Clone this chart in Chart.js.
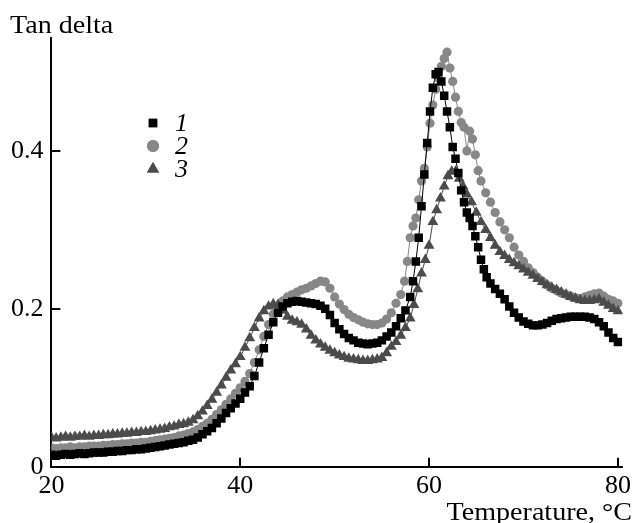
<!DOCTYPE html>
<html>
<head>
<meta charset="utf-8">
<script src="https://cdn.jsdelivr.net/npm/chart.js@4.4.1/dist/chart.umd.min.js"></script>
<style>
  html, body { margin: 0; padding: 0; background: #fff; }
  #wrap { width: 635px; height: 523px; }
</style>
</head>
<body>
<div id="wrap"><canvas id="chart" width="635" height="523"></canvas></div>
<script>
// Tan delta vs temperature, [°C, tan delta]
const sample1 = [
  [20,.015],[20.5,.014],[21,.015],[21.5,.016],[22,.015],[22.5,.016],[23,.017],[23.5,.016],[24,.017],[24.5,.018],
  [25,.018],[25.5,.018],[26,.019],[26.5,.019],[27,.020],[27.5,.020],[28,.021],[28.5,.021],[29,.022],[29.5,.022],
  [30,.023],[30.5,.024],[31,.025],[31.5,.026],[32,.027],[32.5,.028],[33,.029],[33.5,.030],[34,.031],[34.5,.033],
  [35,.034],[35.5,.037],[36,.041],[36.5,.045],[37,.049],[37.5,.055],[38,.061],[38.5,.068],[39,.074],[39.5,.080],
  [40,.086],[40.5,.094],[41,.102],[41.5,.115],[42,.132],[42.5,.150],[43,.167],[43.5,.183],[44,.195],[44.5,.203],
  [45,.207],[45.5,.209],[46,.210],[46.5,.209],[47,.208],[47.5,.207],[48,.206],[48.5,.204],[49,.200],[49.5,.192],
  [50,.182],[50.5,.174],[51,.168],[51.5,.163],[52,.160],[52.5,.157],[53,.156],[53.5,.155],[54,.156],[54.5,.157],
  [55,.160],[55.5,.165],[56,.170],[56.5,.178],[57,.188],[57.5,.198],[58,.215],[58.3,.235],[58.6,.260],[58.9,.290],
  [59.2,.330],[59.5,.370],[59.8,.410],[60.1,.450],[60.4,.480],[60.7,.497],[61,.500],[61.3,.488],[61.6,.470],[61.9,.450],
  [62.2,.430],[62.5,.405],[62.8,.390],[63.1,.372],[63.4,.350],[63.7,.335],[64,.322],[64.3,.315],[64.6,.305],[64.9,.292],
  [65.2,.278],[65.5,.262],[65.8,.250],[66.1,.240],[66.5,.232],[67,.225],[67.5,.219],[68,.212],[68.5,.203],[69,.195],
  [69.5,.189],[70,.184],[70.5,.181],[71,.179],[71.5,.179],[72,.180],[72.5,.182],[73,.185],[73.5,.187],[74,.188],
  [74.5,.189],[75,.190],[75.5,.190],[76,.190],[76.5,.190],[77,.189],[77.5,.187],[78,.183],[78.5,.178],[79,.170],
  [79.5,.163],[80,.158]
];
const sample2 = [
  [20,.024],[20.5,.023],[21,.024],[21.5,.024],[22,.025],[22.5,.024],[23,.025],[23.5,.025],[24,.026],[24.5,.026],
  [25,.026],[25.5,.027],[26,.027],[26.5,.028],[27,.028],[27.5,.029],[28,.029],[28.5,.030],[29,.030],[29.5,.031],
  [30,.031],[30.5,.032],[31,.033],[31.5,.034],[32,.035],[32.5,.036],[33,.037],[33.5,.039],[34,.040],[34.5,.042],
  [35,.044],[35.5,.047],[36,.051],[36.5,.055],[37,.060],[37.5,.066],[38,.072],[38.5,.079],[39,.086],[39.5,.093],
  [40,.100],[40.5,.108],[41,.118],[41.5,.132],[42,.148],[42.5,.165],[43,.180],[43.5,.193],[44,.203],[44.5,.210],
  [45,.215],[45.5,.218],[46,.221],[46.5,.224],[47,.226],[47.5,.229],[48,.232],[48.5,.235],[49,.234],[49.5,.226],
  [50,.215],[50.5,.206],[51,.199],[51.5,.193],[52,.189],[52.5,.186],[53,.183],[53.5,.181],[54,.180],[54.5,.180],
  [55,.182],[55.5,.187],[56,.195],[56.5,.207],[57,.218],[57.4,.235],[57.7,.260],[58,.290],[58.3,.305],[58.6,.315],
  [58.9,.338],[59.2,.362],[59.5,.378],[59.8,.405],[60.1,.435],[60.4,.458],[60.7,.478],[61,.492],[61.3,.507],[61.6,.517],
  [61.9,.525],[62.2,.505],[62.5,.488],[62.8,.468],[63.1,.450],[63.4,.436],[63.7,.430],[64,.400],[64.3,.425],[64.6,.415],
  [64.9,.395],[65.2,.375],[65.5,.362],[66,.347],[66.5,.335],[67,.322],[67.5,.310],[68,.300],[68.5,.290],[69,.278],
  [69.5,.268],[70,.260],[70.5,.252],[71,.246],[71.5,.240],[72,.235],[72.5,.230],[73,.226],[73.5,.223],[74,.220],
  [74.5,.218],[75,.216],[75.5,.214],[76,.213],[76.5,.215],[77,.217],[77.5,.219],[78,.220],[78.5,.216],[79,.212],
  [79.5,.210],[80,.207]
];
const sample3 = [
  [20,.037],[20.5,.036],[21,.037],[21.5,.038],[22,.037],[22.5,.038],[23,.038],[23.5,.039],[24,.038],[24.5,.039],
  [25,.039],[25.5,.040],[26,.040],[26.5,.041],[27,.041],[27.5,.042],[28,.042],[28.5,.043],[29,.043],[29.5,.044],
  [30,.044],[30.5,.045],[31,.046],[31.5,.047],[32,.048],[32.5,.050],[33,.051],[33.5,.053],[34,.054],[34.5,.056],
  [35,.059],[35.5,.064],[36,.070],[36.5,.077],[37,.085],[37.5,.094],[38,.103],[38.5,.113],[39,.122],[39.5,.130],
  [40,.139],[40.5,.151],[41,.163],[41.5,.176],[42,.188],[42.5,.197],[43,.203],[43.5,.206],[44,.205],[44.5,.198],
  [45,.190],[45.5,.185],[46,.183],[46.5,.180],[47,.174],[47.5,.166],[48,.160],[48.5,.155],[49,.151],[49.5,.147],
  [50,.144],[50.5,.141],[51,.139],[51.5,.137],[52,.136],[52.5,.135],[53,.134],[53.5,.134],[54,.135],[54.5,.136],
  [55,.138],[55.5,.144],[56,.152],[56.5,.158],[57,.166],[57.5,.176],[58,.188],[58.4,.205],[58.8,.225],[59.2,.245],
  [59.6,.262],[60,.280],[60.4,.310],[60.8,.325],[61.2,.340],[61.6,.355],[62,.368],[62.4,.374],[62.8,.374],[63.2,.365],
  [63.6,.355],[64,.345],[64.5,.335],[65,.322],[65.5,.310],[66,.300],[66.5,.290],[67,.280],[67.5,.272],[68,.267],
  [68.5,.262],[69,.258],[69.5,.254],[70,.250],[70.5,.246],[71,.242],[71.5,.238],[72,.234],[72.5,.230],[73,.227],
  [73.5,.224],[74,.221],[74.5,.218],[75,.215],[75.5,.213],[76,.211],[76.5,.210],[77,.210],[77.5,.211],[78,.212],
  [78.5,.208],[79,.204],[79.5,.200],[80,.197]
];
const seriesNames = ['1', '2', '3'];
const xTicks = [20, 40, 60, 80];
const yTicks = [0, 0.2, 0.4];

const FONT = "'Liberation Serif', 'Times New Roman', serif";

function toPoints(arr) {
  return arr.map(p => ({ x: p[0], y: p[1] }));
}

// marker look per series; order: smaller = drawn on top
const styles = [
  { color: '#000000', pointStyle: 'rect', radius: 6, order: 0 },
  { color: '#878787', pointStyle: 'circle', radius: 4.6, order: 2 },
  { color: '#4b4b4b', pointStyle: 'triangle', radius: 6.3, order: 1 }
];
const samples = [sample1, sample2, sample3];

const datasets = samples.map((s, i) => ({
  label: seriesNames[i],
  data: toPoints(s),
  showLine: true,
  borderColor: styles[i].color,
  borderWidth: 1,
  backgroundColor: styles[i].color,
  pointBackgroundColor: styles[i].color,
  pointBorderWidth: 0,
  pointStyle: styles[i].pointStyle,
  pointRadius: styles[i].radius,
  order: styles[i].order
}));

function wideText(ctx, text, x, y, align) {
  // reference lettering is a bit wider than Liberation Serif
  const sx = 1.08;
  ctx.save();
  ctx.textAlign = align;
  ctx.translate(x, y);
  ctx.scale(sx, 1);
  ctx.fillText(text, 0, 0);
  ctx.restore();
}

// ticks drawn inward + texts + legend
const decor = {
  id: 'decor',
  afterDraw(chart) {
    const ctx = chart.ctx;
    const xs = chart.scales.x, ys = chart.scales.y;
    const area = chart.chartArea;
    ctx.save();
    ctx.strokeStyle = '#000';
    ctx.lineWidth = 2;
    ctx.beginPath();
    yTicks.slice(1).forEach(v => {
      const py = Math.round(ys.getPixelForValue(v));
      ctx.moveTo(area.left, py);
      ctx.lineTo(area.left + 9, py);
    });
    xTicks.slice(1).forEach(v => {
      const px = Math.round(xs.getPixelForValue(v));
      ctx.moveTo(px, area.bottom);
      ctx.lineTo(px, area.bottom - 9);
    });
    ctx.stroke();

    ctx.fillStyle = '#000';
    ctx.font = '26px ' + FONT;
    ctx.textBaseline = 'alphabetic';
    wideText(ctx, 'Tan delta', 10, 33, 'left');
    wideText(ctx, 'Temperature, °C', 632, 520, 'right');

    // legend
    ctx.font = 'italic 26px ' + FONT;
    ctx.textAlign = 'left';
    ctx.textBaseline = 'middle';
    const legY = [123, 146, 169];
    datasets.forEach((ds, i) => {
      ctx.fillStyle = styles[i].color;
      Chart.helpers.drawPoint(ctx, {
        pointStyle: styles[i].pointStyle,
        radius: i === 2 ? 7 : 6,
        rotation: 0,
        borderWidth: 0
      }, 153, legY[i]);
      ctx.fill();
      ctx.fillStyle = '#000';
      ctx.fillText(ds.label, 175, legY[i] + 1);
    });
    ctx.restore();
  }
};

new Chart(document.getElementById('chart'), {
  type: 'scatter',
  data: { datasets: datasets },
  options: {
    responsive: false,
    animation: false,
    layout: { padding: { top: 38, right: 11, bottom: 0, left: 0 } },
    plugins: {
      legend: { display: false },
      tooltip: { enabled: false }
    },
    scales: {
      x: {
        type: 'linear',
        min: 20,
        max: 80.5,
        grid: { display: false, drawTicks: false },
        border: { display: true, color: '#000', width: 2 },
        afterFit: s => { s.height = 56.3; },
        afterBuildTicks: s => { s.ticks = xTicks.map(v => ({ value: v })); },
        ticks: {
          autoSkip: false,
          maxRotation: 0,
          padding: 4,
          color: '#000',
          font: { family: FONT, size: 26 }
        }
      },
      y: {
        type: 'linear',
        min: 0,
        max: 0.543,
        grid: { display: false, drawTicks: false },
        border: { display: true, color: '#000', width: 2 },
        afterFit: s => { s.width = 51.4; },
        afterBuildTicks: s => { s.ticks = yTicks.map(v => ({ value: v })); },
        ticks: {
          autoSkip: false,
          padding: 8,
          color: '#000',
          font: { family: FONT, size: 26 }
        }
      }
    }
  },
  plugins: [decor]
});
</script>
</body>
</html>
